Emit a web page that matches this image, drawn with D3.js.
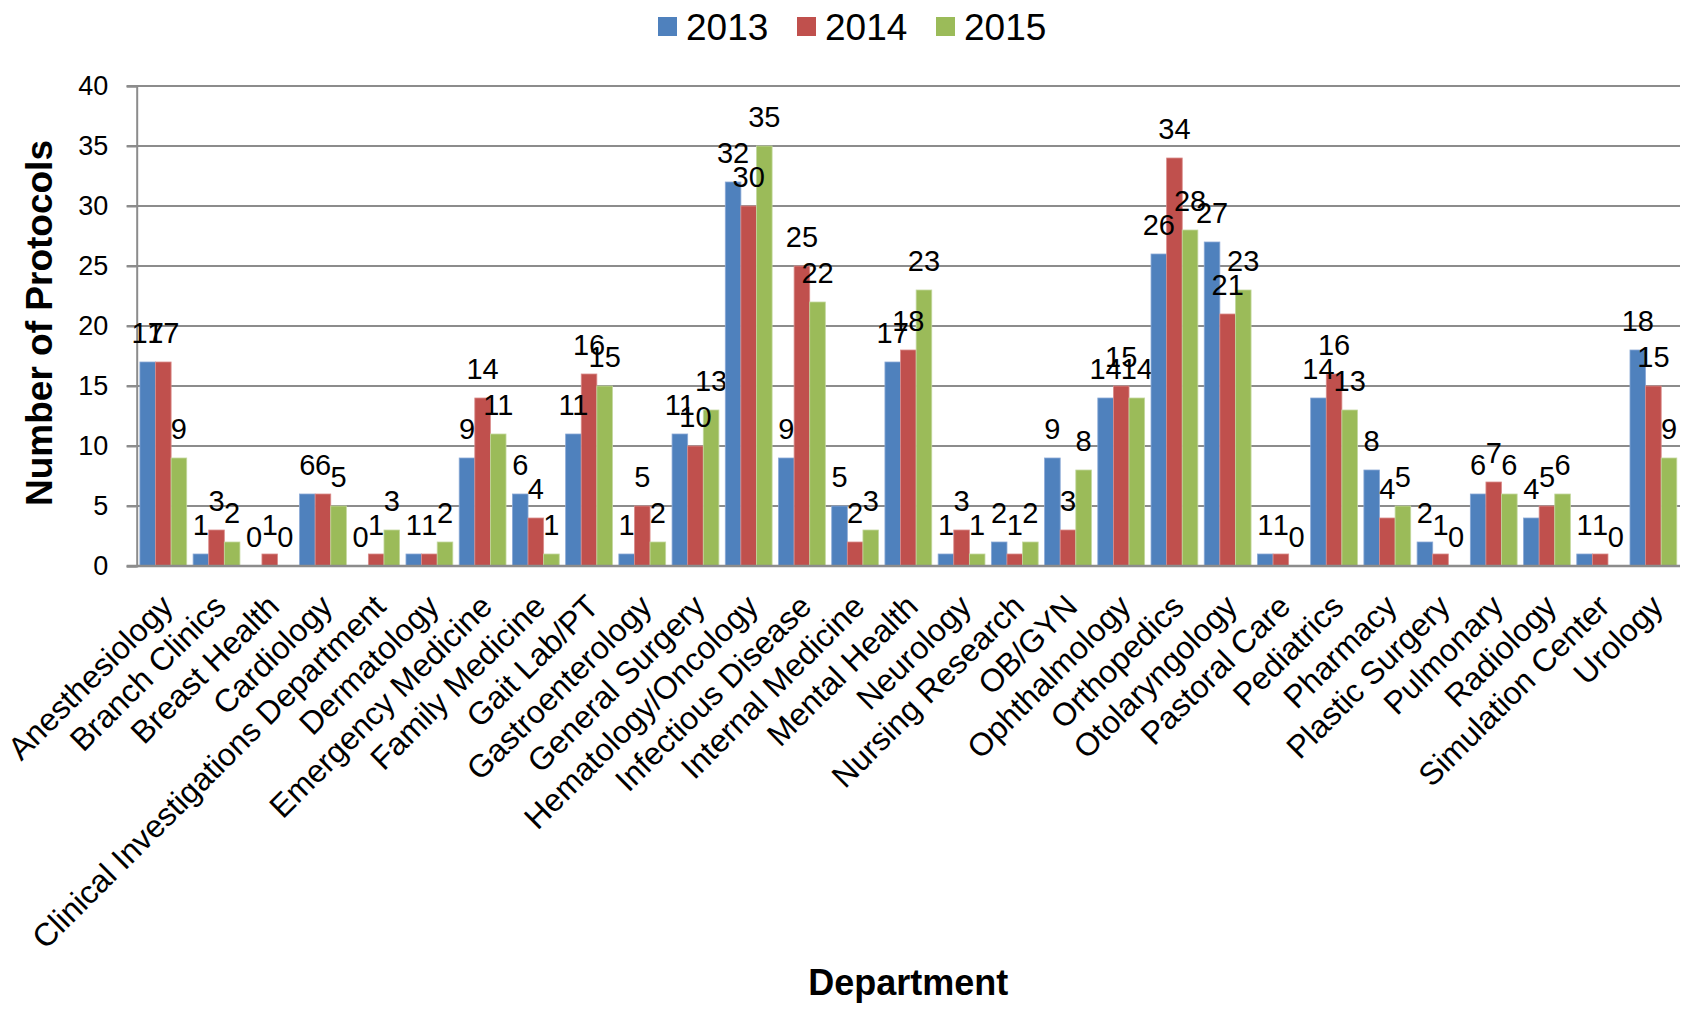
<!DOCTYPE html>
<html>
<head>
<meta charset="utf-8">
<script src="https://cdn.jsdelivr.net/npm/d3@7"></script>
<style>
  body { margin: 0; background: #fff; }
  svg { font-family: "Liberation Sans", Arial, sans-serif; }
</style>
</head>
<body>
<div id="chart"></div>
<script>
// Departments (x categories)
const departments = [
    "Anesthesiology", "Branch Clinics", "Breast Health", "Cardiology",
    "Clinical Investigations Department", "Dermatology", "Emergency Medicine",
    "Family Medicine", "Gait Lab/PT", "Gastroenterology", "General Surgery",
    "Hematology/Oncology", "Infectious Disease", "Internal Medicine",
    "Mental Health", "Neurology", "Nursing Research", "OB/GYN",
    "Ophthalmology", "Orthopedics", "Otolaryngology", "Pastoral Care",
    "Pediatrics", "Pharmacy", "Plastic Surgery", "Pulmonary", "Radiology",
    "Simulation Center", "Urology"
];

// Series
const years = ["2013", "2014", "2015"];
const values2013 = [17, 1, 0, 6, 0, 1, 9, 6, 11, 1, 11, 32, 9, 5, 17, 1, 2, 9, 14, 26, 27, 1, 14, 8, 2, 6, 4, 1, 18];
const values2014 = [17, 3, 1, 6, 1, 1, 14, 4, 16, 5, 10, 30, 25, 2, 18, 3, 1, 3, 15, 34, 21, 1, 16, 4, 1, 7, 5, 1, 15];
const values2015 = [9, 2, 0, 5, 3, 2, 11, 1, 15, 2, 13, 35, 22, 3, 23, 1, 2, 8, 14, 28, 23, 0, 13, 5, 0, 6, 6, 0, 9];

// Y axis ticks
const yTicks = [0, 5, 10, 15, 20, 25, 30, 35, 40];

const colors = { "2013": "#4F81BD", "2014": "#C0504D", "2015": "#9BBB59" };
const strokes = { "2013": "#8AA9D6", "2014": "#DA8C8A", "2015": "#C3D89E" };

const width = 1691, height = 1009;
const plotLeft = 136.7, plotRight = 1680, plotTop = 86, plotBottom = 566;

const svg = d3.select("#chart").append("svg")
    .attr("width", width)
    .attr("height", height);

// Scales
const x0 = d3.scaleBand().domain(departments).range([plotLeft, plotRight]).padding(0);
const x1 = d3.scaleBand().domain(years).range([3.2, x0.bandwidth() - 3.2]).padding(0);
const y = d3.scaleLinear().domain([0, 40]).range([plotBottom, plotTop]);

// Gridlines
svg.append("g")
    .selectAll("line")
    .data(yTicks.filter(function (d) { return d > 0; }))
    .enter().append("line")
        .attr("x1", plotLeft - 10)
        .attr("x2", plotRight)
        .attr("y1", function (d) { return y(d); })
        .attr("y2", function (d) { return y(d); })
        .attr("stroke", "#8C8C8C")
        .attr("stroke-width", 2);

// Y axis
const yAxis = svg.append("g")
    .attr("transform", "translate(" + plotLeft + ",0)")
    .call(d3.axisLeft(y).tickValues(yTicks).tickSize(10).tickPadding(18.5));
yAxis.select(".domain").attr("stroke", "#8C8C8C").attr("stroke-width", 2);
yAxis.selectAll(".tick line").attr("stroke", "#8C8C8C").attr("stroke-width", 2);
yAxis.selectAll(".tick text")
    .attr("font-size", 27)
    .attr("fill", "#000")
    .attr("font-family", "Liberation Sans, Arial, sans-serif");

// Series rows
const rows = departments.map(function (d, i) {
    return { dept: d, vals: [values2013[i], values2014[i], values2015[i]] };
});

const groups = svg.append("g").selectAll("g")
    .data(rows)
    .enter().append("g")
        .attr("transform", function (d) { return "translate(" + x0(d.dept) + ",0)"; });

const cells = function (d) {
    return years.map(function (yr, k) { return { year: yr, value: d.vals[k] }; });
};

groups.selectAll("rect")
    .data(cells)
    .enter().append("rect")
        .attr("x", function (d) { return x1(d.year); })
        .attr("width", x1.bandwidth())
        .attr("y", function (d) { return y(d.value); })
        .attr("height", function (d) { return plotBottom - y(d.value); })
        .attr("fill", function (d) { return colors[d.year]; })
        .attr("stroke", function (d) { return d.value > 0 ? strokes[d.year] : "none"; })
        .attr("stroke-width", 0.8);

// X axis line
svg.append("line")
    .attr("x1", plotLeft - 10)
    .attr("x2", plotRight)
    .attr("y1", plotBottom)
    .attr("y2", plotBottom)
    .attr("stroke", "#8C8C8C")
    .attr("stroke-width", 2.5);

// Data labels
groups.selectAll("text.val")
    .data(cells)
    .enter().append("text")
        .attr("class", "val")
        .attr("x", function (d) { return x1(d.year) + x1.bandwidth() / 2; })
        .attr("y", function (d) { return y(d.value) - 19; })
        .attr("text-anchor", "middle")
        .attr("font-size", 29)
        .attr("fill", "#000")
        .text(function (d) { return d.value; });

// Category labels
svg.append("g").selectAll("text")
    .data(departments)
    .enter().append("text")
        .attr("transform", function (d) {
            const cx = x0(d) + x0.bandwidth() / 2 - 5;
            return "translate(" + cx + "," + (plotBottom + 26) + ") rotate(-45)";
        })
        .attr("text-anchor", "end")
        .attr("dominant-baseline", "hanging")
        .attr("font-size", 32)
        .attr("fill", "#000")
        .text(function (d) { return d; });

// Legend
const legendItems = [
    { year: "2013", x: 658 },
    { year: "2014", x: 797 },
    { year: "2015", x: 936 }
];
const legend = svg.append("g").selectAll("g")
    .data(legendItems)
    .enter().append("g");
legend.append("rect")
    .attr("x", function (d) { return d.x; })
    .attr("y", 17)
    .attr("width", 19)
    .attr("height", 19)
    .attr("fill", function (d) { return colors[d.year]; });
legend.append("text")
    .attr("x", function (d) { return d.x + 28; })
    .attr("y", 39.5)
    .attr("font-size", 37)
    .attr("fill", "#000")
    .text(function (d) { return d.year; });

// Axis titles
svg.append("text")
    .attr("x", (plotLeft + plotRight) / 2)
    .attr("y", 995)
    .attr("text-anchor", "middle")
    .attr("font-size", 36)
    .attr("font-weight", "bold")
    .attr("fill", "#000")
    .text("Department");

svg.append("text")
    .attr("transform", "translate(52,323) rotate(-90)")
    .attr("text-anchor", "middle")
    .attr("font-size", 37)
    .attr("font-weight", "bold")
    .attr("fill", "#000")
    .text("Number of Protocols");
</script>
</body>
</html>
